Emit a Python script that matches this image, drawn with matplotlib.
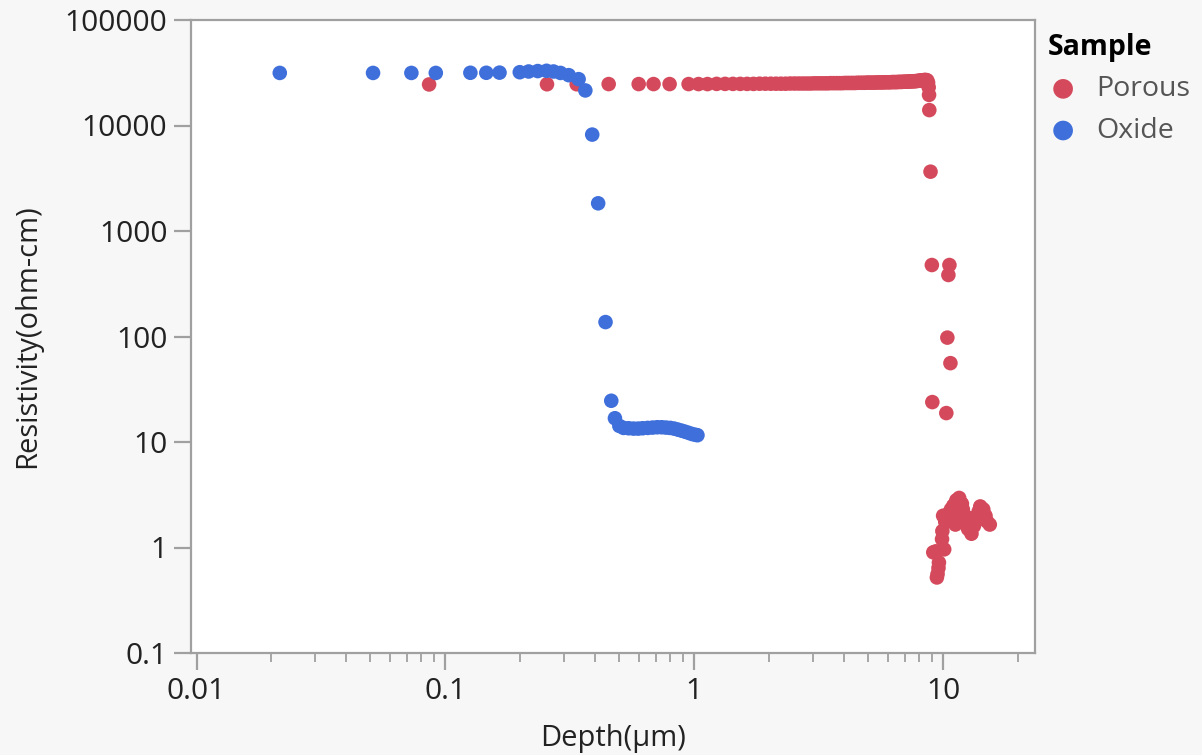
import matplotlib
matplotlib.use("Agg")
import matplotlib.pyplot as plt
from matplotlib.ticker import FixedLocator, LogLocator, NullFormatter, NullLocator

plt.rcParams['font.family'] = ['Open Sans', 'DejaVu Sans']

# Oxide sample
oxide_depth = [0.0216, 0.0512, 0.0730, 0.0915, 0.126, 0.146, 0.165, 0.199, 0.216,
               0.235, 0.255, 0.272, 0.290, 0.313, 0.343, 0.365, 0.389, 0.411, 0.440,
               0.464, 0.480, 0.500, 0.520, 0.545, 0.570, 0.595, 0.620, 0.650, 0.680,
               0.710, 0.740, 0.770, 0.800, 0.830, 0.860, 0.890, 0.920, 0.950, 0.980,
               1.01, 1.03]
oxide_res = [31500, 31500, 31500, 31500, 31600, 31600, 31700, 32000, 32500,
             32800, 33000, 32500, 31500, 30000, 27500, 21500, 8200, 1830, 137,
             24.6, 16.8, 14.2, 13.6, 13.5, 13.4, 13.4, 13.5, 13.6, 13.7,
             13.8, 13.8, 13.7, 13.6, 13.4, 13.1, 12.8, 12.5, 12.2, 11.9,
             11.7, 11.6]

# Porous sample
porous_depth = [0.086, 0.256, 0.337, 0.453, 0.598, 0.686, 0.796, 0.949, 1.04, 1.13,
                1.23, 1.33, 1.43, 1.53, 1.63, 1.73, 1.83, 1.93, 2.03, 2.13,
                2.23, 2.33, 2.43, 2.53, 2.63, 2.73, 2.83, 2.93, 3.03, 3.13,
                3.23, 3.33, 3.43, 3.53, 3.63, 3.73, 3.83, 3.93, 4.03, 4.13,
                4.23, 4.33, 4.43, 4.53, 4.63, 4.73, 4.83, 4.93, 5.03, 5.13,
                5.23, 5.33, 5.43, 5.53, 5.63, 5.73, 5.83, 5.93, 6.03, 6.13,
                6.23, 6.33, 6.43, 6.53, 6.63, 6.73, 6.83, 6.93, 7.03, 7.13,
                7.23, 7.33, 7.43, 7.53, 7.63, 7.73, 7.83, 7.93, 8.03, 8.13,
                8.23, 8.33, 8.43, 8.53, 8.63, 8.70, 8.75, 8.78, 8.80, 8.90,
                9.01, 10.6, 10.5, 10.4, 10.7, 9.05, 10.3,
                9.44, 9.50, 9.58, 9.62, 9.13, 9.35, 10.1, 9.90, 9.93, 10.2,
                10.0, 10.4, 10.75, 11.0, 11.3, 11.6, 11.9, 11.2, 11.4, 12.2,
                12.4, 12.6, 13.0, 13.3, 13.6, 13.9, 14.1, 14.5, 14.8, 15.0,
                15.4, 12.0, 12.8, 11.8, 10.6]
porous_res = [24500, 24600, 24600, 24700, 24700, 24700, 24700, 24700, 24700, 24700,
              24800, 24800, 24800, 24800, 24800, 24800, 24900, 24900, 24900, 24900,
              24900, 24900, 25000, 25000, 25000, 25000, 25000, 25000, 25100, 25100,
              25100, 25100, 25100, 25200, 25200, 25200, 25200, 25200, 25300, 25300,
              25300, 25300, 25300, 25400, 25400, 25400, 25400, 25500, 25500, 25500,
              25500, 25500, 25600, 25600, 25600, 25600, 25700, 25700, 25700, 25700,
              25800, 25800, 25800, 25800, 25900, 25900, 25900, 26000, 26000, 26000,
              26100, 26100, 26200, 26200, 26300, 26300, 26400, 26500, 26600, 26700,
              26800, 26900, 27000, 27000, 26800, 25500, 23000, 19500, 14000, 3650,
              476, 476, 383, 97.6, 55.9, 23.9, 18.8,
              0.52, 0.56, 0.64, 0.72, 0.90, 0.92, 0.96, 1.20, 1.43, 1.75,
              2.00, 2.05, 2.30, 2.50, 2.80, 2.95, 2.60, 1.65, 2.00, 2.00,
              1.70, 1.50, 1.35, 1.60, 1.80, 2.20, 2.45, 2.30, 2.00, 1.77,
              1.65, 2.30, 1.90, 2.20, 1.90]

red = '#d44a5c'
blue = '#3f6fdb'
grey = '#a0a0a0'

fig = plt.figure(figsize=(12.02, 7.55), dpi=100, facecolor='#f7f7f7')
ax = fig.add_axes([191 / 1202, 102 / 755, 844 / 1202, 633 / 755])
ax.set_facecolor('white')

ax.scatter(porous_depth, porous_res, s=110, color=red, edgecolors='none', label='Porous', zorder=2)
ax.scatter(oxide_depth, oxide_res, s=110, color=blue, edgecolors='none', label='Oxide', zorder=3)

ax.set_xscale('log')
ax.set_yscale('log')
ax.set_xlim(0.0095, 23.4)
ax.set_ylim(0.1, 100000)

ytick_vals = [0.1, 1, 10, 100, 1000, 10000, 100000]
ytick_labels = ['0.1', '1', '10', '100', '1000', '10000', '100000']
xtick_vals = [0.01, 0.1, 1, 10]
xtick_labels = ['0.01', '0.1', '1', '10']

ax.yaxis.set_major_locator(FixedLocator(ytick_vals))
ax.set_yticklabels(ytick_labels)
ax.yaxis.set_minor_locator(NullLocator())
ax.xaxis.set_major_locator(FixedLocator(xtick_vals))
ax.set_xticklabels(xtick_labels)
ax.xaxis.set_minor_locator(LogLocator(base=10, subs=range(2, 10)))
ax.xaxis.set_minor_formatter(NullFormatter())

ax.tick_params(axis='both', which='major', labelsize=21.5, colors=grey, labelcolor='#222222',
               length=12, width=1.6, pad=5)
ax.tick_params(axis='x', which='minor', colors=grey, length=6.5, width=1.3)

for sp in ax.spines.values():
    sp.set_color(grey)
    sp.set_linewidth(1.6)

ax.set_xlabel('Depth(µm)', fontsize=21, color='#222222', labelpad=13)
ax.set_ylabel('Resistivity(ohm-cm)', fontsize=21, color='#222222', labelpad=16)

leg = ax.legend(loc='upper left', bbox_to_anchor=(1.008, 0.989), frameon=False,
                title='Sample', fontsize=20.5, markerscale=1.35, handlelength=1.1,
                handletextpad=0.6, labelspacing=0.48, borderaxespad=0, borderpad=0.2)
leg.get_title().set_fontweight('bold')
leg.get_title().set_fontsize(20.5)
leg._legend_box.align = 'left'
for t in leg.get_texts():
    t.set_color('#555555')

fig.savefig('out.png', dpi=100, facecolor=fig.get_facecolor())
